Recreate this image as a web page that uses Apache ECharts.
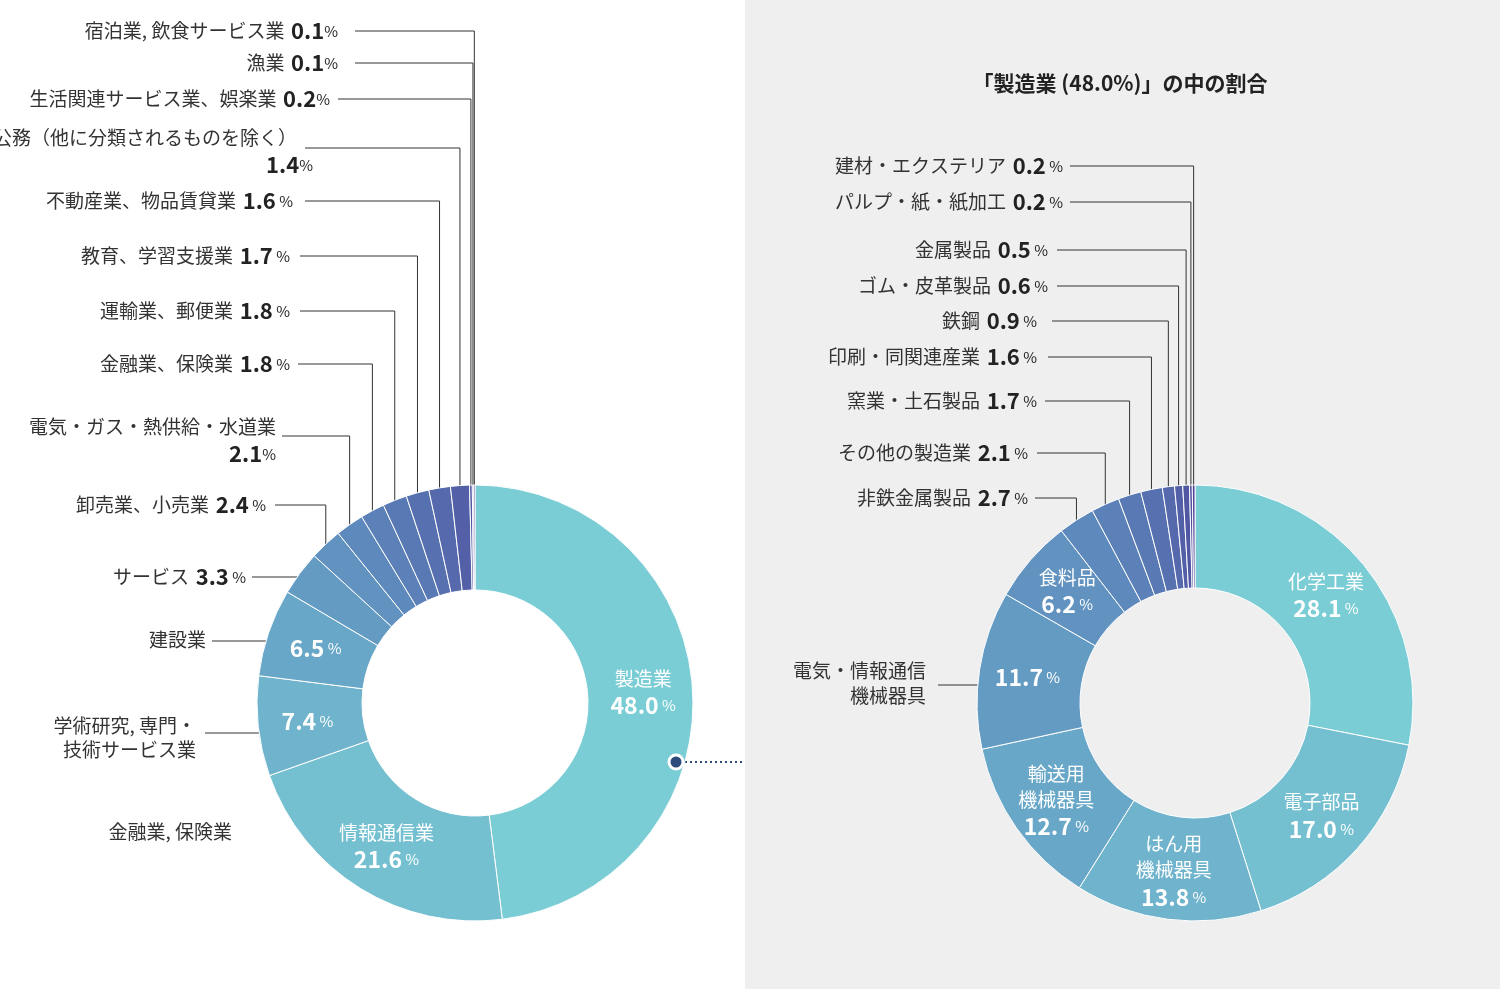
<!DOCTYPE html>
<html><head><meta charset="utf-8">
<script src="https://cdn.jsdelivr.net/npm/echarts@6/dist/echarts.min.js"></script>
<style>html,body{margin:0;padding:0;background:#fff}#main{width:1500px;height:989px}</style>
</head><body><div id="main"></div>
<script>
var leftNames = ['製造業','情報通信業','学術研究, 専門・技術サービス業','建設業','サービス','卸売業、小売業','電気・ガス・熱供給・水道業','金融業、保険業','運輸業、郵便業','教育、学習支援業','不動産業、物品賃貸業','公務（他に分類されるものを除く）','生活関連サービス業、娯楽業','漁業','宿泊業, 飲食サービス業'];
var leftValues = [48.0, 21.6, 7.4, 6.5, 3.3, 2.4, 2.1, 1.8, 1.8, 1.7, 1.6, 1.4, 0.2, 0.1, 0.1];
var rightNames = ['化学工業','電子部品','はん用機械器具','輸送用機械器具','電気・情報通信機械器具','食料品','非鉄金属製品','その他の製造業','窯業・土石製品','印刷・同関連産業','鉄鋼','ゴム・皮革製品','金属製品','パルプ・紙・紙加工','建材・エクステリア'];
var rightValues = [28.1, 17.0, 13.8, 12.7, 11.7, 6.2, 2.7, 2.1, 1.7, 1.6, 0.9, 0.6, 0.5, 0.2, 0.2];

var palette = ['#7bcdd5','#74c0d0','#6fb3cc','#69a7c8','#649bc3','#6192c0','#5e89bc','#5b81b8','#5979b4','#5771b0','#5569ac','#5360a7','#5157a2','#4f4d9d','#4d4397'];
var font = '"Noto Sans CJK JP", "Noto Sans", sans-serif';

var chart = echarts.init(document.getElementById('main'));

// which slices carry an inside label
var leftInside = {0: '製造業', 1: '情報通信業', 2: '', 3: ''};
var rightInside = {0: '化学工業', 1: '電子部品', 2: 'はん用\n機械器具', 3: '輸送用\n機械器具', 4: '', 5: '食料品'};

function buildData(names, values, inside) {
  return values.map(function (v, i) {
    var show = inside.hasOwnProperty(i);
    var txt = '';
    if (show) {
      txt = (inside[i] ? inside[i].split('\n').map(function (s) { return '{n|' + s + '}'; }).join('\n') + '\n' : '') +
        '{v|' + v.toFixed(1) + '}{p| %}';
    }
    return {
      name: names[i], value: v,
      itemStyle: { color: palette[i] },
      label: { show: show, formatter: txt }
    };
  });
}

var rich = {
  n: { fontFamily: font, fontSize: 19, color: '#fff', lineHeight: 26 },
  v: { fontFamily: font, fontSize: 23, color: '#fff', fontWeight: 'bold', lineHeight: 28 },
  p: { fontFamily: font, fontSize: 15, color: '#fff', lineHeight: 28 }
};

function pieSeries(center, radius, data) {
  return {
    type: 'pie', center: center, radius: radius, startAngle: 90, clockwise: true,
    silent: true, animation: false,
    itemStyle: { borderColor: '#fff', borderWidth: 1 },
    label: { position: 'inner', rich: rich, align: 'center' },
    labelLine: { show: false },
    data: data
  };
}

// point on the outer edge at the middle of slice i
function midPoint(values, i, cx, cy, R) {
  var total = values.reduce(function (a, b) { return a + b; }, 0);
  var cum = 0;
  for (var k = 0; k < i; k++) cum += values[k];
  var a = (90 - 360 * (cum + values[i] / 2) / total) * Math.PI / 180;
  return [cx + R * Math.cos(a), cy - R * Math.sin(a)];
}

var graphics = [
  { type: 'rect', shape: { x: 745, y: 0, width: 755, height: 989 }, style: { fill: '#efefef' }, z: -10 },
  { type: 'text', style: { x: 1120, y: 83, text: '「製造業 (48.0%)」の中の割合', font: 'bold 21px ' + font, fill: '#222', align: 'center', verticalAlign: 'middle' } },
  { type: 'line', shape: { x1: 680, y1: 762, x2: 745, y2: 762 }, style: { stroke: '#2c4a7c', lineWidth: 2, lineDash: [2, 3] } },
  { type: 'circle', shape: { cx: 676, cy: 762, r: 7 }, style: { fill: '#2c4a7c', stroke: '#fff', lineWidth: 3 }, z: 20 },
  { type: 'text', style: { x: 232, y: 832, text: '金融業, 保険業', font: '19px ' + font, fill: '#333', align: 'right', verticalAlign: 'middle' } }
];

function labelText(x, y, name, val, sep) {
  var t = (name ? '{n|' + name + '}' + (val ? '  ' : '') : '') + (val ? '{v|' + val + '}{p|' + sep + '%}' : '');
  graphics.push({ type: 'text', style: { x: x, y: y, text: t, align: 'right', verticalAlign: 'middle',
    rich: { n: { fontFamily: font, fontSize: 19, fill: '#333' }, v: { fontFamily: font, fontSize: 22, fontWeight: 'bold', fill: '#222' }, p: { fontFamily: font, fontSize: 15, fill: '#222' } } } });
}
function leader(values, i, cx, cy, R, lx, ly) {
  var p = midPoint(values, i, cx, cy, R);
  graphics.push({ type: 'polyline', shape: { points: [[lx, ly], [p[0], ly], [p[0], p[1]]] }, style: { stroke: '#333', lineWidth: 1, fill: null } });
}
function hLeader(cx, cy, R, lx, ly) {
  var x = cx - Math.sqrt(R * R - (ly - cy) * (ly - cy));
  graphics.push({ type: 'line', shape: { x1: lx, y1: ly, x2: x, y2: ly }, style: { stroke: '#333', lineWidth: 1 } });
}

// left pie labels: [index, text end x, y, line start x, line y, name, two-line]
var LC = [475, 703, 218];
var leftLab = [
  [14, 338, 31, 355, 31, '宿泊業, 飲食サービス業', '', ''],
  [13, 338, 63, 355, 63, '漁業', '', ''],
  [12, 330, 99, 338, 99, '生活関連サービス業、娯楽業', '', ''],
  [11, 297, 138, 305, 148, '公務（他に分類されるものを除く）', 313, 165],
  [10, 293, 201, 305, 201, '不動産業、物品賃貸業', '', ''],
  [9, 290, 256, 300, 256, '教育、学習支援業', '', ''],
  [8, 290, 311, 300, 311, '運輸業、郵便業', '', ''],
  [7, 290, 364, 298, 364, '金融業、保険業', '', ''],
  [6, 276, 427, 282, 436, '電気・ガス・熱供給・水道業', 276, 454],
  [5, 266, 505, 275, 505, '卸売業、小売業', '', ''],
  [4, 246, 577, 252, 577, 'サービス', '', '']
];
leftLab.forEach(function (r) {
  var val = leftValues[r[0]].toFixed(1);
  var sep = (r[0] >= 12) ? '' : ' ';
  if (r[7] !== '') {
    labelText(r[1], r[2], r[5], '', '');
    labelText(r[6], r[7], '', val, '');
  } else {
    labelText(r[1], r[2], r[5], val, sep);
  }
  leader(leftValues, r[0], LC[0], LC[1], LC[2], r[3], r[4]);
});
labelText(206, 640, '建設業', '', '');
hLeader(LC[0], LC[1], LC[2], 212, 641);
labelText(196, 726, '学術研究, 専門・', '', '');
labelText(196, 750, '技術サービス業', '', '');
hLeader(LC[0], LC[1], LC[2], 205, 733);

var RC = [1195, 703, 218];
var rightLab = [
  [14, 1063, 166, 1070, '建材・エクステリア'],
  [13, 1063, 202, 1070, 'パルプ・紙・紙加工'],
  [12, 1048, 250, 1057, '金属製品'],
  [11, 1048, 286, 1057, 'ゴム・皮革製品'],
  [10, 1037, 321, 1052, '鉄鋼'],
  [9, 1037, 357, 1048, '印刷・同関連産業'],
  [8, 1037, 401, 1045, '窯業・土石製品'],
  [7, 1028, 453, 1037, '名その他の製造業'.slice(1)],
  [6, 1028, 498, 1035, '非鉄金属製品']
];
rightLab.forEach(function (r) {
  labelText(r[1], r[2], r[4], rightValues[r[0]].toFixed(1), ' ');
  leader(rightValues, r[0], RC[0], RC[1], RC[2], r[3], r[2]);
});
labelText(926, 671, '電気・情報通信', '', '');
labelText(926, 696, '機械器具', '', '');
hLeader(RC[0], RC[1], RC[2], 938, 685);

var option = {
  backgroundColor: '#fff',
  animation: false,
  graphic: graphics,
  series: [
    pieSeries([475, 703], [113, 218], buildData(leftNames, leftValues, leftInside)),
    pieSeries([1195, 703], [115, 218], buildData(rightNames, rightValues, rightInside))
  ]
};
option && chart.setOption(option);
window.addEventListener('resize', function () { chart.resize(); });
</script>
</body></html>
